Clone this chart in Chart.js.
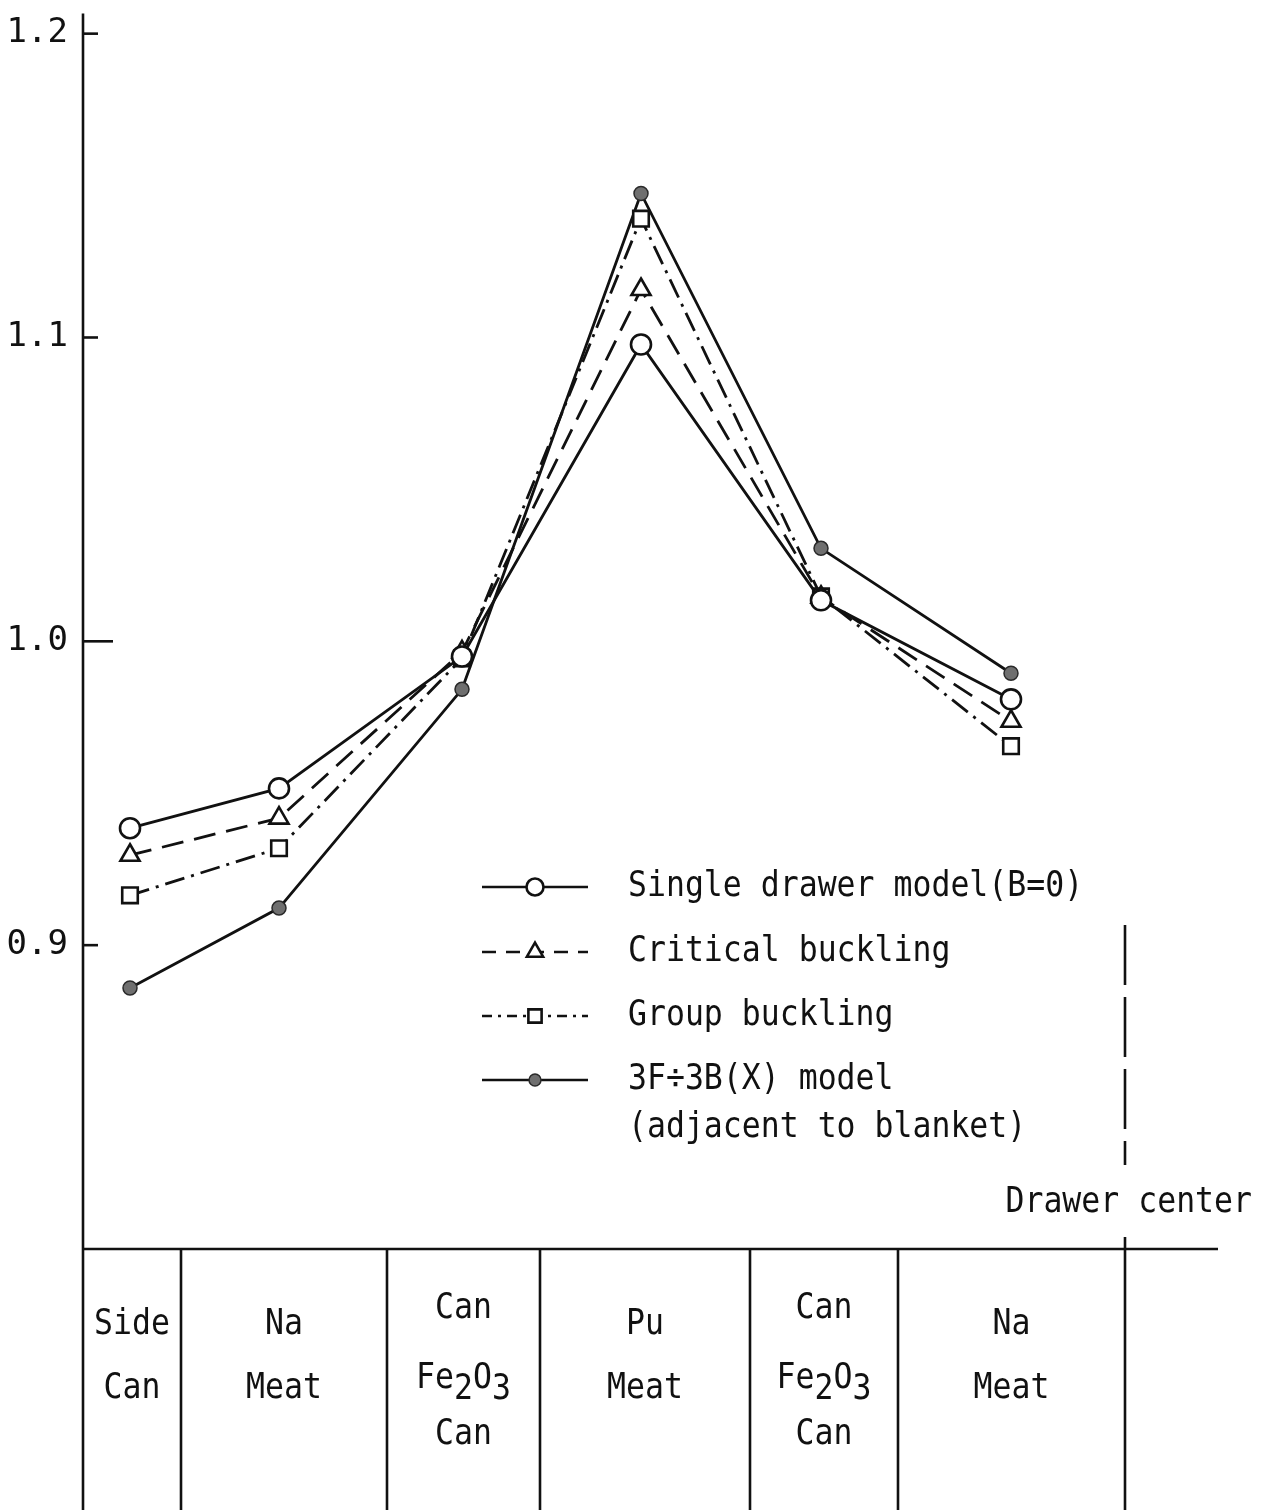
<!DOCTYPE html>
<html><head><meta charset="utf-8">
<script src="https://cdn.jsdelivr.net/npm/chart.js@4.4.1/dist/chart.umd.min.js"></script>
<style>html,body{margin:0;padding:0;background:#fff;}#wrap{width:1273px;height:1510px;}</style>
</head><body><div id="wrap"><canvas id="c" width="1273" height="1510"></canvas></div>
<script>
// ---- data ----
const regionNames = [["Side","Can"],["Na","Meat"],["Can","Fe2O3","Can"],["Pu","Meat"],["Can","Fe2O3","Can"],["Na","Meat"]];
const regionEdges = [0, 98, 304, 457, 667, 815, 1042];   // position across drawer (arb. units); last = drawer center
const pointPos   = [47, 196, 379, 558, 738, 928];
const xMax = 1135;
const yTicks = [0.9, 1.0, 1.1, 1.2];
const seriesNames = ["Single drawer model(B=0)", "Critical buckling", "Group buckling", "3F÷3B(X) model"];
const legendExtra = "(adjacent to blanket)";
const singleDrawer     = [0.9385, 0.9516, 0.9950, 1.0977, 1.0135, 0.9809];
const criticalBuckling = [0.9296, 0.9418, 0.9965, 1.1158, 1.0145, 0.9737];
const groupBuckling    = [0.9164, 0.9319, 0.9944, 1.1391, 1.0148, 0.9655];
const model3F3B        = [0.8859, 0.9122, 0.9842, 1.1474, 1.0306, 0.9895];

// ---- style ----
const INK = '#111';
const FONT = '"DejaVu Sans Mono", "Liberation Mono", monospace';
const FS = 36, SX = 0.875;
function pts(arr){ return arr.map((v,i)=>({x: pointPos[i], y: v})); }
const base = {borderColor: INK, borderWidth: 2.8, tension: 0, pointBorderColor: INK, pointBorderWidth: 2.6, pointBackgroundColor: '#fff', clip: false};

const datasets = [
  Object.assign({}, base, {label: seriesNames[0], data: pts(singleDrawer), pointStyle: 'circle', pointRadius: 10, legendDash: []}),
  Object.assign({}, base, {label: seriesNames[1], data: pts(criticalBuckling), borderDash: [22,11], pointStyle: 'triangle', pointRadius: 11, legendDash: [14,10]}),
  Object.assign({}, base, {label: seriesNames[2], data: pts(groupBuckling), borderDash: [20,7,3,7], pointStyle: 'rect', pointRadius: 11, legendDash: [10,6,3,6]}),
  Object.assign({}, base, {label: seriesNames[3], data: pts(model3F3B), pointStyle: 'circle', pointRadius: 7, pointBackgroundColor: '#6f6f6f', pointBorderColor: '#2a2a2a', pointBorderWidth: 1.5, legendDash: []})
];

// condensed text: draw with horizontal scale
function text(c, str, x, y, align){
  c.save();
  c.font = FS + 'px ' + FONT; c.fillStyle = INK; c.textBaseline = 'middle'; c.textAlign = 'left';
  const w = c.measureText(str).width * SX;
  let x0 = align === 'right' ? x - w : align === 'center' ? x - w/2 : x;
  c.translate(x0, y); c.scale(SX, 1); c.fillText(str, 0, 0);
  c.restore();
  return w;
}
function textWidth(c, str){ c.save(); c.font = FS + 'px ' + FONT; const w = c.measureText(str).width * SX; c.restore(); return w; }
function drawChem(c, str, cx, cy){
  const parts = [];
  for (let i=0;i<str.length;i++){
    const ch = str[i];
    parts.push({ch, sub: /[0-9]/.test(ch) && i>0 && /[A-Za-z]/.test(str[i-1])});
  }
  const w = parts.reduce((s,p)=>s + textWidth(c, p.ch), 0);
  let x = cx - w/2;
  parts.forEach(p=>{ x += text(c, p.ch, x, cy + (p.sub ? 11 : 0), 'left'); });
}
function marker(c, ds, x, y){
  c.save();
  c.setLineDash([]);
  c.fillStyle = ds.pointBackgroundColor; c.strokeStyle = ds.pointBorderColor; c.lineWidth = ds.pointBorderWidth;
  Chart.helpers.drawPoint(c, {pointStyle: ds.pointStyle, radius: ds.pointRadius*0.85, borderWidth: ds.pointBorderWidth, rotation: 0}, x, y);
  c.restore();
}

const overlay = {
  id: 'overlay',
  afterDraw(chart){
    const c = chart.ctx, a = chart.chartArea, xs = chart.scales.x, ys = chart.scales.y, H = chart.height;
    c.save();
    c.strokeStyle = INK; c.lineWidth = 2.6; c.setLineDash([]);
    // y axis, running down through the table
    c.beginPath(); c.moveTo(a.left, a.top); c.lineTo(a.left, H); c.stroke();
    // inward ticks
    yTicks.forEach(v=>{ const y = ys.getPixelForValue(v); const len = Math.abs(v-1.0)<1e-9 ? 30 : 15;
      c.beginPath(); c.moveTo(a.left, y); c.lineTo(a.left+len, y); c.stroke(); });
    // base line
    c.beginPath(); c.moveTo(a.left, a.bottom); c.lineTo(a.right, a.bottom); c.stroke();
    // region boundaries
    const last = regionEdges.length-1;
    for (let i=1;i<=last;i++){
      const x = xs.getPixelForValue(regionEdges[i]);
      c.beginPath(); c.moveTo(x, a.bottom - (i===last ? 12 : 0)); c.lineTo(x, H); c.stroke();
    }
    // drawer center dashed marker
    const xc = xs.getPixelForValue(regionEdges[last]);
    c.setLineDash([60,12]); c.beginPath(); c.moveTo(xc, a.bottom-324); c.lineTo(xc, a.bottom-84); c.stroke(); c.setLineDash([]);
    text(c, 'Drawer center', 1252, a.bottom-46, 'right');
    // region labels
    regionNames.forEach((lines, i)=>{
      const cx = xs.getPixelForValue((regionEdges[i]+regionEdges[i+1])/2);
      const offs = lines.length === 3 ? [60, 130, 186] : [76, 140];
      lines.forEach((t, k)=> drawChem(c, t, cx, a.bottom + offs[k]));
    });
    // legend
    const rows = [887, 952, 1016, 1080];
    datasets.forEach((ds, i)=>{
      const y = rows[i];
      c.strokeStyle = INK; c.lineWidth = 2.6; c.setLineDash(ds.legendDash);
      c.beginPath(); c.moveTo(482, y); c.lineTo(588, y); c.stroke(); c.setLineDash([]);
      marker(c, ds, 535, y);
      text(c, ds.label, 628, y, 'left');
    });
    text(c, legendExtra, 628, 1128, 'left');
    c.restore();
  }
};

new Chart(document.getElementById('c'), {
  type: 'line',
  data: {datasets},
  options: {
    responsive: false, animation: false, devicePixelRatio: 1,
    layout: {padding: {left: 0, top: 13, right: 55, bottom: 261}},
    plugins: {legend: {display: false}, tooltip: {enabled: false}},
    scales: {
      x: {type: 'linear', min: 0, max: xMax, display: false},
      y: {
        type: 'linear', min: 0.8, max: 1.2066,
        afterBuildTicks: s => { s.ticks = yTicks.map(v=>({value: v})); },
        afterFit: s => { s.width = 83; s.paddingTop = 0; s.paddingBottom = 0; },
        ticks: {font: {family: FONT, size: 34}, color: INK, padding: 15, callback: v => Number(v).toFixed(1)},
        grid: {display: false, drawTicks: false},
        border: {display: false}
      }
    }
  },
  plugins: [overlay]
});
</script>
</body></html>
